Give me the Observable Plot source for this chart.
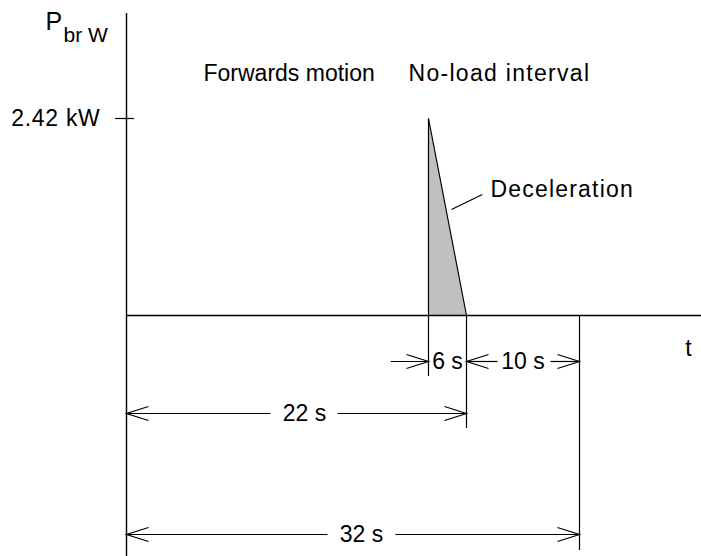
<!DOCTYPE html>
<html>
<head>
<meta charset="utf-8">
<script src="https://cdn.jsdelivr.net/npm/d3@7"></script>
<script src="https://cdn.jsdelivr.net/npm/@observablehq/plot@0.6"></script>
<style>
  html, body { margin: 0; padding: 0; background: #fff; }
  svg { display: block; }
</style>
</head>
<body>
<div id="chart"></div>
<script>
// ---- data ----
const eventTimes = [0, 16, 22, 32];          // s : start, braking start, stop, end of cycle
const peakPower = 2.42;                       // kW
const brakingProfile = [{t: 16, p: 2.42}, {t: 22, p: 0}];
const triangleOutline = [{t: 16, p: 0}, {t: 16, p: 2.42}, {t: 22, p: 0}];
const phaseLabels = ["Forwards motion", "No-load interval"];
const durations = [
  {label: "6 s", from: 16, to: 22},
  {label: "10 s", from: 22, to: 32},
  {label: "22 s", from: 0, to: 22},
  {label: "32 s", from: 0, to: 32}
];
const peakLabel = "2.42 kW";

// ---- layout (diagram is not drawn to scale: piecewise time axis) ----
const xRange = [126, 428, 466, 579];
const row = [-0.565, -1.204, -2.69];          // levels of the dimension lines
const extDepth = {16: -0.749, 22: -1.388, 32: -2.887};
const font = "'Liberation Sans', Arial, Helvetica, sans-serif";
const fs = 23;

const chevronRight = {draw(ctx) { ctx.moveTo(-22, -7); ctx.lineTo(0, 0); ctx.lineTo(-22, 7); }};
const chevronLeft  = {draw(ctx) { ctx.moveTo(22, -7); ctx.lineTo(0, 0); ctx.lineTo(22, 7); }};

const extensions = [16, 22, 32].map(t => ({t, y2: extDepth[t]}));

const segments = [
  {x1: 14, x2: 16, y: row[0]},
  {x1: 22, x2: 24.74, y: row[0]},
  {x1: 29.43, x2: 32, y: row[0]},
  {x1: 0, x2: 7.63, y: row[1]},
  {x1: 11.18, x2: 22, y: row[1]},
  {x1: 0, x2: 10.65, y: row[2]},
  {x1: 14.25, x2: 32, y: row[2]}
];
const headsRight = [
  {t: 16, y: row[0]}, {t: 32, y: row[0]},
  {t: 22, y: row[1]}, {t: 32, y: row[2]}
];
const headsLeft = [
  {t: 22, y: row[0]}, {t: 0, y: row[1]}, {t: 0, y: row[2]}
];
const durationText = [
  {label: durations[0].label, t: 19, y: row[0]},
  {label: durations[1].label, t: 27, y: row[0]},
  {label: durations[2].label, t: 9.43, y: row[1]},
  {label: durations[3].label, t: 12.45, y: row[2]}
];
const phaseText = [
  {label: phaseLabels[0], t: 4.08, y: 2.973},
  {label: phaseLabels[1], t: 14.94, y: 2.973}
];

const chart = Plot.plot({
  width: 701,
  height: 556,
  marginLeft: 126,
  marginRight: 0,
  marginTop: 13,
  marginBottom: 0,
  style: {fontFamily: font, fontSize: fs + "px", background: "#fff", color: "#000"},
  x: {type: "linear", domain: eventTimes, range: xRange, axis: null},
  y: {type: "linear", domain: [0, peakPower], range: [315, 118], axis: null},
  marks: [
    Plot.areaY(brakingProfile, {x: "t", y: "p", fill: "#c0c0c0"}),
    Plot.line(triangleOutline, {x: "t", y: "p", stroke: "#000", strokeWidth: 1.2}),
    Plot.ruleX([0], {stroke: "#000", strokeWidth: 1.4}),
    Plot.ruleY([0], {stroke: "#000", strokeWidth: 1.4}),
    Plot.ruleY([peakPower], {x1: 0, x2: 0, insetLeft: -11, insetRight: -8, stroke: "#000", strokeWidth: 1.2}),
    Plot.ruleX(extensions, {x: "t", y1: 0, y2: "y2", stroke: "#000", strokeWidth: 1.2}),
    Plot.link(segments, {x1: "x1", x2: "x2", y1: "y", y2: "y", stroke: "#000", strokeWidth: 1.2}),
    Plot.dot(headsRight, {x: "t", y: "y", symbol: chevronRight, fill: "none", stroke: "#000", strokeWidth: 1.2}),
    Plot.dot(headsLeft, {x: "t", y: "y", symbol: chevronLeft, fill: "none", stroke: "#000", strokeWidth: 1.2}),
    Plot.link([{x1: 23.4, y1: 1.486, x2: 19.63, y2: 1.302}], {x1: "x1", y1: "y1", x2: "x2", y2: "y2", stroke: "#000", strokeWidth: 1.2}),
    Plot.text(phaseText, {x: "t", y: "y", text: "label", textAnchor: "start", fontSize: fs, fill: "#000"}),
    Plot.text(["Deceleration"], {x: 24.12, y: 1.548, text: d => d, textAnchor: "start", fontSize: fs, fill: "#000"}),
    Plot.text(durationText, {x: "t", y: "y", text: "label", textAnchor: "middle", fontSize: fs, fill: "#000"}),
    Plot.text([peakLabel], {x: 0, y: peakPower, dx: -26, text: d => d, textAnchor: "end", fontSize: fs, fill: "#000"}),
    Plot.text(["P"], {x: 0, y: 3.61, dx: -81, text: d => d, textAnchor: "start", fontSize: 25, fill: "#000"}),
    Plot.text(["br W"], {x: 0, y: 3.44, dx: -63, text: d => d, textAnchor: "start", fontSize: 21, fill: "#000"}),
    Plot.text(["t"], {x: 41.65, y: -0.405, text: d => d, textAnchor: "middle", fontSize: fs, fill: "#000"})
  ]
});
// slightly wider tracking on a few labels, as in the original drawing
d3.select(chart).selectAll("text").each(function () {
  const s = this.textContent;
  if (s === "Deceleration") this.setAttribute("letter-spacing", "1.2px");
  if (s === phaseLabels[1]) this.setAttribute("letter-spacing", "1.3px");
  if (s === peakLabel) this.setAttribute("letter-spacing", "0.7px");
});
document.getElementById("chart").appendChild(chart);
</script>
</body>
</html>
